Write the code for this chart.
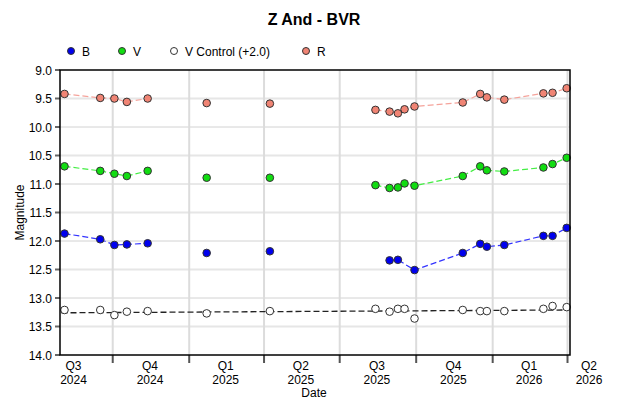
<!DOCTYPE html>
<html>
<head>
<meta charset="utf-8">
<script src="https://cdn.jsdelivr.net/npm/d3@7"></script>
<style>
  body { margin: 0; background: #fff; }
  text { font-family: "Liberation Sans", Arial, sans-serif; }
</style>
</head>
<body>
<div id="chart"></div>
<script>
// Observation dates (one row per night)
var dates = [
  "2024-08-04", "2024-09-16", "2024-10-03", "2024-10-18", "2024-11-12",
  "2025-01-22", "2025-04-08", "2025-08-13", "2025-08-30", "2025-09-09",
  "2025-09-17", "2025-09-29", "2025-11-26", "2025-12-17", "2025-12-25",
  "2026-01-15", "2026-03-03", "2026-03-14", "2026-03-31"
];

var bMag = [11.87, 11.97, 12.07, 12.06, 12.04, 12.21, 12.18, null, 12.34, 12.33,
  null, 12.51, 12.21, 12.05, 12.10, 12.07, 11.91, 11.91, 11.77];
var vMag = [10.69, 10.77, 10.82, 10.86, 10.77, 10.89, 10.89, 11.02, 11.07, 11.06,
  10.99, 11.03, 10.86, 10.69, 10.76, 10.78, 10.71, 10.65, 10.54];
var controlMag = [13.21, 13.21, 13.30, 13.24, 13.23, 13.27, 13.23, 13.19, 13.24, 13.19,
  13.19, 13.36, 13.21, 13.23, 13.23, 13.23, 13.19, 13.14, 13.16];
var rMag = [9.42, 9.49, 9.50, 9.56, 9.50, 9.58, 9.59, 9.70, 9.73, 9.76,
  9.69, 9.64, 9.57, 9.42, 9.48, 9.52, 9.41, 9.40, 9.32];

// trend of the control star, start and end
var controlTrend = [13.26, 13.21];

var quarterStarts = ["2024-07-01", "2024-10-01", "2025-01-01", "2025-04-01",
  "2025-07-01", "2025-10-01", "2026-01-01", "2026-04-01"];
var quarterNames = ["Q3", "Q4", "Q1", "Q2", "Q3", "Q4", "Q1", "Q2"];
var quarterYears = ["2024", "2024", "2025", "2025", "2025", "2025", "2026", "2026"];

var yTicks = [9.0, 9.5, 10.0, 10.5, 11.0, 11.5, 12.0, 12.5, 13.0, 13.5, 14.0];

var width = 630,
  height = 405,
  margin = { top: 70, right: 60, bottom: 50, left: 60 };

var parse = d3.timeParse("%Y-%m-%d");
var dateObjs = dates.map(parse);

var series = [
  { name: "B", values: bMag, fill: "#0000ee", line: "#3333ff" },
  { name: "V", values: vMag, fill: "#11dd11", line: "#44ee44" },
  { name: "V Control (+2.0)", values: controlMag, fill: "#ffffff", line: null },
  { name: "R", values: rMag, fill: "#f08474", line: "#f5a39b" }
];

var svg = d3
  .select("#chart")
  .append("svg")
  .attr("width", width)
  .attr("height", height);

var x = d3
  .scaleTime()
  .domain([new Date(2024, 6, 29, 14), new Date(2026, 3, 4)])
  .range([margin.left, width - margin.right]);

var y = d3
  .scaleLinear()
  .domain([9, 14])
  .range([margin.top, height - margin.bottom]);

var x0 = margin.left,
  x1 = width - margin.right,
  y0 = margin.top,
  y1 = height - margin.bottom;

// Title
svg
  .append("text")
  .attr("x", 314)
  .attr("y", 25)
  .attr("text-anchor", "middle")
  .style("font-size", "16px")
  .style("font-weight", "bold")
  .text("Z And - BVR");

// Legend
var legendX = [71, 122, 174, 306];
var legend = svg
  .append("g")
  .selectAll("g")
  .data(series)
  .join("g")
  .attr("transform", (d, i) => "translate(" + legendX[i] + ",51)");
legend
  .append("circle")
  .attr("r", 3.5)
  .attr("fill", (d) => d.fill)
  .attr("stroke", "#333")
  .attr("stroke-width", 1);
legend
  .append("text")
  .attr("x", 11)
  .attr("y", 4.5)
  .style("font-size", "12px")
  .text((d) => d.name);

// Horizontal grid
var grid = svg.append("g");
grid
  .selectAll("line.h")
  .data(yTicks.filter((t) => t > 9 && t < 14))
  .join("line")
  .attr("class", "h")
  .attr("x1", x0)
  .attr("x2", x1)
  .attr("y1", (d) => y(d))
  .attr("y2", (d) => y(d))
  .attr("stroke", (d) => (d % 1 === 0 ? "#d2d2d2" : "#e6e6e6"))
  .attr("stroke-width", (d) => (d % 1 === 0 ? 1 : 2));

// Vertical grid at quarter boundaries
var quarterDates = quarterStarts.map(parse);
grid
  .selectAll("line.v")
  .data(quarterDates.filter((d) => d > x.domain()[0]))
  .join("line")
  .attr("class", "v")
  .attr("x1", (d) => x(d))
  .attr("x2", (d) => x(d))
  .attr("y1", y0)
  .attr("y2", y1)
  .attr("stroke", "#dcdcdc")
  .attr("stroke-width", 2);

// Y axis ticks and labels
var yAxis = svg.append("g");
yAxis
  .selectAll("line")
  .data(yTicks)
  .join("line")
  .attr("x1", x0 - 5)
  .attr("x2", x0)
  .attr("y1", (d) => y(d))
  .attr("y2", (d) => y(d))
  .attr("stroke", "#666")
  .attr("stroke-width", 2);
yAxis
  .selectAll("text")
  .data(yTicks)
  .join("text")
  .attr("x", x0 - 8)
  .attr("y", (d) => y(d) + 4.5)
  .attr("text-anchor", "end")
  .style("font-size", "12px")
  .text((d) => d3.format(".1f")(d));

svg
  .append("text")
  .attr("transform", "translate(24," + (y0 + y1) / 2 + ") rotate(-90)")
  .attr("text-anchor", "middle")
  .style("font-size", "12px")
  .text("Magnitude");

// X axis: ticks at quarter starts, labels in the middle of each quarter
var xAxis = svg.append("g");
xAxis
  .selectAll("line")
  .data(quarterDates.filter((d) => d > x.domain()[0]))
  .join("line")
  .attr("x1", (d) => x(d))
  .attr("x2", (d) => x(d))
  .attr("y1", y1)
  .attr("y2", y1 + 8)
  .attr("stroke", "#555")
  .attr("stroke-width", 2);

var qLabel = xAxis
  .selectAll("g")
  .data(quarterDates)
  .join("g")
  .attr("transform", (d, i) => {
    var mid = new Date((+d + +d3.timeMonth.offset(d, 3)) / 2);
    var px = Math.min(x(mid) - 1, width - 41);
    return "translate(" + px + ",0)";
  });
qLabel
  .append("text")
  .attr("y", 370)
  .attr("text-anchor", "middle")
  .style("font-size", "12px")
  .text((d, i) => quarterNames[i]);
qLabel
  .append("text")
  .attr("y", 384)
  .attr("text-anchor", "middle")
  .style("font-size", "12px")
  .text((d, i) => quarterYears[i]);

svg
  .append("text")
  .attr("x", 314)
  .attr("y", 397)
  .attr("text-anchor", "middle")
  .style("font-size", "12px")
  .text("Date");

// Split a series into runs, break where the gap is longer than ~2 months
function runs(values) {
  var out = [];
  var cur = [];
  var last = null;
  values.forEach(function (v, i) {
    if (v == null) return;
    var p = { date: dateObjs[i], mag: v };
    if (last && (p.date - last.date) / 864e5 > 65) {
      out.push(cur);
      cur = [];
    }
    cur.push(p);
    last = p;
  });
  if (cur.length) out.push(cur);
  return out.filter((r) => r.length > 1);
}

var line = d3
  .line()
  .x((d) => x(d.date))
  .y((d) => y(d.mag));

var lines = svg.append("g");
series.forEach(function (s) {
  if (!s.line) return;
  lines
    .selectAll(null)
    .data(runs(s.values))
    .join("path")
    .attr("d", line)
    .attr("fill", "none")
    .attr("stroke", s.line)
    .attr("stroke-width", 1.2)
    .attr("stroke-dasharray", "6,3");
});

// Control star trend line
lines
  .append("line")
  .attr("x1", x(dateObjs[0]) - 3)
  .attr("x2", x(dateObjs[dateObjs.length - 1]))
  .attr("y1", y(controlTrend[0]))
  .attr("y2", y(controlTrend[1]))
  .attr("stroke", "#222")
  .attr("stroke-width", 1.3)
  .attr("stroke-dasharray", "6,3");

// Points
var points = svg.append("g");
series.forEach(function (s) {
  points
    .selectAll(null)
    .data(s.values.map((v, i) => ({ date: dateObjs[i], mag: v })).filter((d) => d.mag != null))
    .join("circle")
    .attr("cx", (d) => x(d.date))
    .attr("cy", (d) => y(d.mag))
    .attr("r", 3.8)
    .attr("fill", s.fill)
    .attr("stroke", "#333")
    .attr("stroke-width", 1);
});

// Plot frame
svg
  .append("rect")
  .attr("x", x0)
  .attr("y", y0)
  .attr("width", x1 - x0)
  .attr("height", y1 - y0)
  .attr("fill", "none")
  .attr("stroke", "#000")
  .attr("stroke-width", 1.5);
</script>
</body>
</html>
